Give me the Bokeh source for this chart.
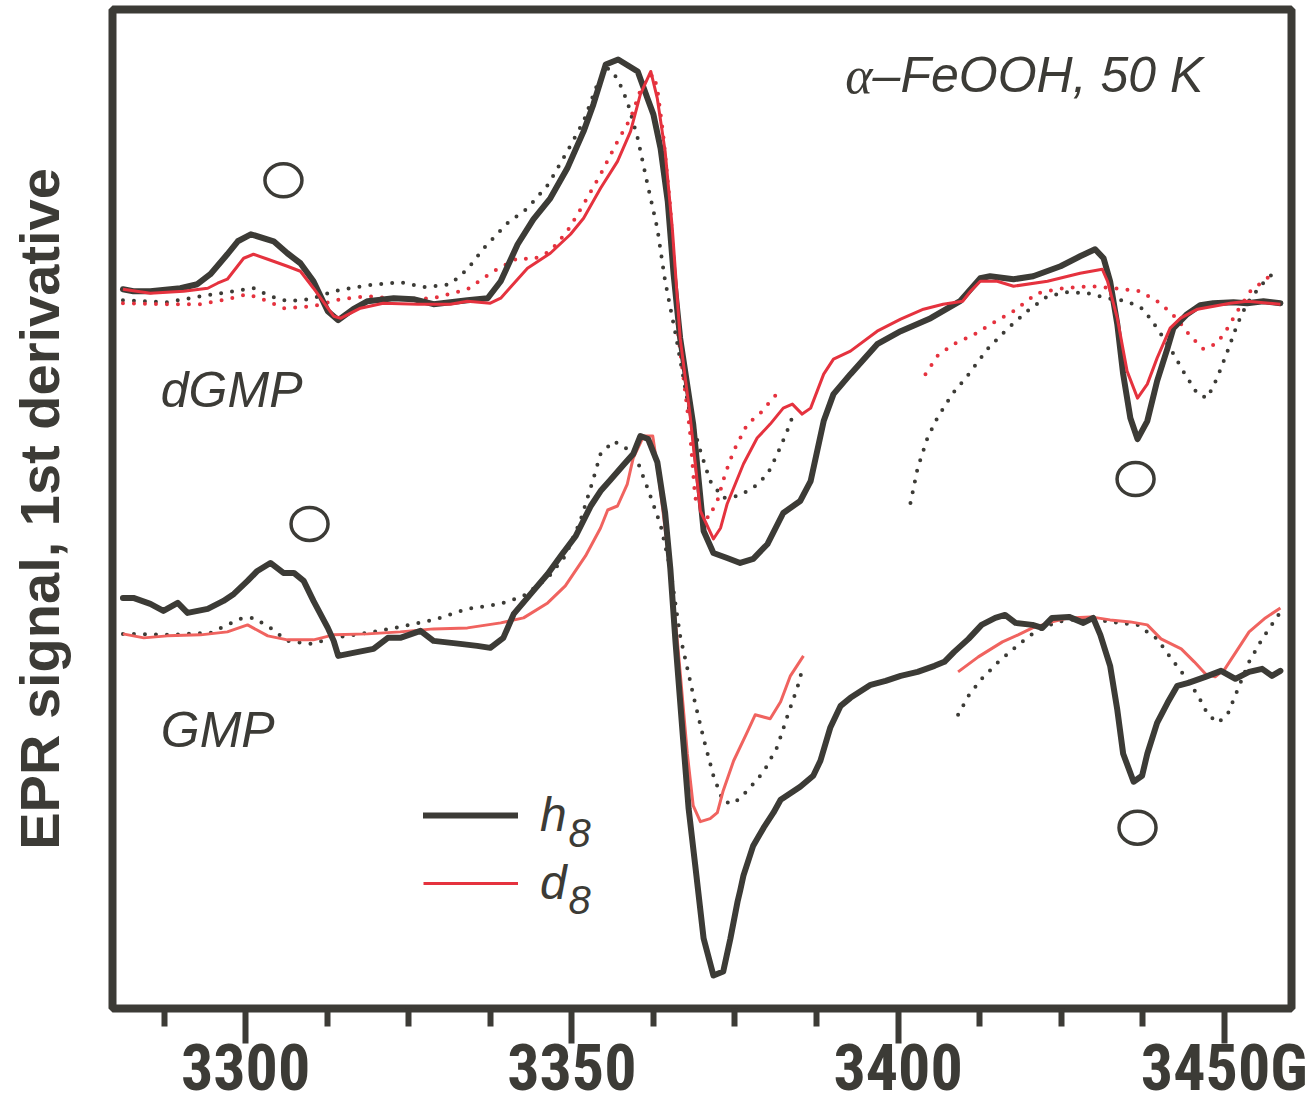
from bokeh.plotting import figure
from bokeh.models import Range1d, FixedTicker, LinearAxis, Label, Legend, LegendItem
from bokeh.embed import file_html
from bokeh.resources import INLINE

NAN = float("nan")

# ---------------- data (field in G, signal in arbitrary units) ----------------
# dGMP, h8 (experimental)
dgmp_h8_field = [3281.2, 3282.8, 3285.4, 3290.0, 3292.6, 3294.6, 3297.2, 3298.8, 3300.8, 3304.3,
                 3306.4, 3308.4, 3310.4, 3312.6, 3314.2, 3316.5, 3318.7, 3322.7, 3325.7, 3328.8,
                 3334.0, 3337.1, 3339.1, 3341.7, 3344.1, 3346.7, 3349.3, 3351.8, 3353.3, 3355.2,
                 3357.1, 3360.1, 3361.6, 3362.5, 3363.6, 3364.7, 3365.6, 3366.6, 3368.6, 3370.2,
                 3371.7, 3373.8, 3375.8, 3377.8, 3380.0, 3382.4, 3385.0, 3386.6, 3388.6, 3390.1,
                 3392.7, 3396.8, 3400.4, 3405.0, 3409.5, 3412.6, 3414.1, 3417.7, 3420.7, 3424.9,
                 3427.9, 3430.2, 3431.5, 3432.5, 3433.6, 3434.5, 3435.6, 3436.7, 3438.2, 3439.7,
                 3441.3, 3442.2, 3444.3, 3446.3, 3448.3, 3451.4, 3453.5, 3456.0, 3458.6]
dgmp_h8_signal = [22.0, 21.8, 21.8, 22.1, 22.5, 23.5, 25.5, 26.8, 27.5, 26.8,
                  25.6, 24.6, 22.8, 19.8, 18.9, 20.0, 20.8, 21.1, 21.0, 20.5,
                  20.9, 21.1, 22.8, 26.5, 29.0, 31.1, 34.1, 37.8, 40.5, 44.5,
                  45.0, 43.8, 41.1, 39.5, 36.1, 30.8, 23.5, 17.1, 8.5, -2.2,
                  -4.4, -4.9, -5.4, -5.0, -3.5, -0.4, 0.8, 2.8, 8.8, 11.5,
                  13.5, 16.5, 17.8, 19.1, 20.8, 23.1, 23.3, 23.0, 23.3, 24.3,
                  25.3, 26.0, 25.1, 22.8, 18.5, 13.5, 9.1, 7.0, 8.8, 12.8,
                  16.1, 18.1, 19.5, 20.4, 20.6, 20.7, 20.6, 20.8, 20.6]

# dGMP, d8 (experimental)
dgmp_d8_field = [3281.2, 3285.4, 3290.5, 3294.2, 3295.7, 3297.2, 3299.7, 3301.2, 3303.4, 3306.4,
                 3308.4, 3310.4, 3313.5, 3314.6, 3317.6, 3321.1, 3326.4, 3331.4, 3334.0, 3337.5,
                 3339.1, 3343.2, 3346.7, 3349.8, 3351.8, 3354.4, 3357.0, 3359.0, 3360.5, 3362.1,
                 3363.1, 3364.3, 3365.4, 3366.6, 3368.1, 3369.7, 3371.7, 3372.8, 3373.8, 3376.3,
                 3378.4, 3380.4, 3382.4, 3383.8, 3385.3, 3386.6, 3388.6, 3390.1, 3392.7, 3396.8,
                 3400.4, 3403.9, 3406.9, 3409.9, 3411.1, 3412.6, 3415.2, 3417.7, 3422.9, 3427.9,
                 3431.3, 3432.1, 3433.6, 3435.1, 3436.7, 3438.2, 3439.7, 3441.7, 3443.3, 3445.9,
                 3450.9, 3453.5, 3458.6]
dgmp_d8_signal = [22.0, 21.6, 21.8, 22.1, 22.6, 23.0, 25.1, 25.5, 25.0, 24.3,
                  23.8, 22.1, 19.3, 19.1, 20.1, 20.6, 20.5, 20.5, 20.8, 20.6,
                  21.1, 24.1, 25.6, 27.5, 29.1, 32.1, 34.8, 37.8, 41.5, 43.8,
                  41.1, 35.8, 28.1, 17.1, 9.5, -0.2, -3.0, -1.9, 0.5, 4.5,
                  7.1, 8.5, 10.1, 10.5, 9.5, 10.1, 13.5, 15.0, 15.8, 17.8,
                  19.0, 20.0, 20.5, 20.8, 21.8, 22.8, 22.8, 22.3, 22.8, 23.6,
                  24.0, 22.8, 19.1, 13.8, 11.1, 12.5, 15.1, 18.1, 19.1, 20.0,
                  20.6, 20.8, 20.5]

# dGMP, h8 (dotted)
dgmp_h8_dot_field = [3281.2, 3288.0, 3293.1, 3298.2, 3301.2, 3303.8, 3306.4, 3310.0, 3313.5, 3318.7,
                     3323.7, 3327.3, 3331.4, 3334.0, 3336.5, 3340.1, 3343.2, 3346.4, 3349.3, 3351.8,
                     3353.9, 3355.6, 3357.0, 3358.5, 3360.1, 3361.6, 3363.1, 3364.3, 3365.9, 3368.1,
                     3369.7, 3371.2, 3373.2, 3375.5, 3377.8, 3380.0, 3381.5, 3383.0, 3383.8, NAN,
                     3401.9, 3403.0, 3404.5, 3406.0, 3408.3, 3410.6, 3413.7, 3416.7, 3419.8, 3422.9,
                     3425.9, 3429.0, 3432.1, 3435.1, 3437.6, 3439.7, 3441.7, 3443.7, 3445.9, 3447.4,
                     3448.9, 3450.5, 3452.0, 3453.5, 3455.5, 3457.5]
dgmp_h8_dot_signal = [20.9, 20.7, 21.3, 21.8, 22.1, 21.3, 20.8, 21.0, 21.8, 22.4,
                      22.7, 22.2, 22.5, 24.0, 26.1, 28.6, 30.1, 32.5, 35.8, 38.8,
                      42.5, 44.1, 43.1, 40.8, 37.1, 32.5, 28.1, 22.8, 17.5, 9.5,
                      5.8, 2.8, 1.1, 1.3, 2.1, 3.5, 5.5, 7.8, 9.2, NAN,
                      0.6, 4.1, 7.1, 9.1, 11.5, 13.3, 16.0, 18.0, 19.8, 21.3,
                      21.7, 21.6, 21.1, 20.8, 20.0, 18.1, 16.1, 13.8, 11.5, 11.1,
                      13.1, 15.8, 18.5, 20.6, 22.3, 23.6]

# dGMP, d8 (dotted)
dgmp_d8_dot_field = [3281.2, 3288.0, 3293.1, 3297.2, 3300.3, 3303.4, 3305.8, 3310.4, 3314.6, 3318.7,
                     3323.7, 3328.8, 3334.0, 3338.0, 3341.7, 3344.1, 3346.7, 3349.3, 3351.8, 3354.4,
                     3357.0, 3359.0, 3361.0, 3362.5, 3363.1, 3364.0, 3365.1, 3366.3, 3368.1, 3368.9,
                     3370.9, 3372.3, 3373.5, 3374.8, 3376.9, 3378.9, 3381.5, NAN,
                     3404.2, 3406.0, 3408.5, 3411.5, 3413.7, 3417.7, 3421.3, 3425.3, 3429.5, 3433.0,
                     3437.1, 3440.2, 3442.8, 3444.8, 3446.8, 3448.9, 3450.5, 3452.0, 3454.0, 3456.0,
                     3457.5]
dgmp_d8_dot_signal = [20.6, 20.5, 20.5, 21.0, 21.5, 20.8, 20.1, 20.3, 21.0, 21.3,
                      21.0, 21.1, 22.0, 23.8, 25.1, 25.0, 25.8, 27.8, 30.5, 33.5,
                      36.8, 39.1, 42.8, 43.5, 42.1, 37.5, 30.1, 17.5, 7.8, 1.1,
                      -0.9, 0.8, 3.5, 5.8, 8.5, 9.6, 11.6, NAN,
                      13.5, 15.3, 16.5, 17.4, 18.3, 19.8, 21.6, 22.1, 22.3, 22.1,
                      21.8, 20.6, 19.0, 17.3, 16.0, 16.6, 18.1, 19.8, 21.8, 22.8,
                      23.6]

# GMP, h8 (experimental)
gmp_h8_field = [3281.2, 3282.8, 3285.4, 3287.4, 3289.6, 3291.1, 3294.2, 3296.6, 3298.2, 3300.3,
                3301.8, 3303.8, 3305.8, 3307.4, 3308.9, 3310.4, 3312.6, 3313.5, 3314.2, 3316.5,
                3319.6, 3321.8, 3323.7, 3326.8, 3328.8, 3332.9, 3335.5, 3337.5, 3339.5, 3341.1,
                3343.7, 3346.3, 3348.3, 3350.6, 3352.9, 3354.4, 3355.9, 3357.9, 3359.4, 3360.5,
                3361.7, 3363.1, 3364.3, 3365.1, 3365.9, 3367.0, 3367.9, 3368.9, 3370.2, 3371.7,
                3373.2, 3374.3, 3375.4, 3375.8, 3376.3, 3377.8, 3379.4, 3380.9, 3382.0, 3385.0,
                3387.0, 3388.1, 3389.6, 3391.2, 3392.7, 3395.8, 3398.1, 3400.4, 3403.0, 3405.6,
                3407.1, 3408.6, 3410.8, 3412.8, 3414.9, 3416.4, 3418.0, 3420.6, 3422.1, 3423.6,
                3426.2, 3428.4, 3429.9, 3431.0, 3432.5, 3433.6, 3434.5, 3436.1, 3437.4, 3438.2,
                3439.7, 3441.3, 3442.8, 3444.5, 3447.1, 3449.5, 3451.7, 3453.8, 3455.8, 3457.3,
                3458.6]
gmp_h8_signal = [-8.9, -8.9, -9.5, -10.2, -9.4, -10.4, -10.0, -9.2, -8.5, -7.2,
                 -6.2, -5.4, -6.4, -6.4, -7.2, -9.2, -11.9, -13.2, -14.7, -14.4,
                 -14.0, -12.9, -12.9, -12.2, -13.2, -13.5, -13.7, -13.9, -12.9, -10.5,
                 -8.5, -6.5, -4.7, -2.7, 0.3, 1.8, 2.9, 4.4, 5.5, 7.3,
                 7.0, 4.7, -0.4, -6.0, -13.4, -22.6, -30.0, -35.6, -43.0, -46.7,
                 -46.3, -43.0, -39.3, -38.2, -36.7, -33.7, -31.9, -30.4, -29.1, -27.8,
                 -26.7, -25.2, -21.9, -19.7, -18.9, -17.6, -17.2, -16.7, -16.3, -15.7,
                 -15.3, -14.3, -13.0, -11.6, -10.9, -10.6, -11.4, -11.6, -11.9, -10.9,
                 -10.8, -11.4, -10.9, -12.6, -15.7, -20.1, -24.5, -27.3, -26.7, -24.5,
                 -21.4, -19.4, -17.7, -17.4, -16.8, -16.2, -17.0, -16.3, -16.0, -16.7,
                 -16.2]

# GMP, d8 (experimental, two segments)
gmp_d8_field = [3281.2, 3284.4, 3288.0, 3293.1, 3297.2, 3300.3, 3303.4, 3306.4, 3310.4, 3313.5,
                3318.7, 3323.7, 3328.8, 3334.0, 3339.1, 3342.6, 3346.3, 3349.0, 3352.1, 3354.4,
                3355.5, 3357.0, 3358.5, 3359.4, 3361.0, 3362.4, 3363.3, 3364.7, 3366.2, 3367.7,
                3368.6, 3369.7, 3371.2, 3372.3, 3373.2, 3374.8, 3376.9, 3378.1, 3380.4, 3382.0,
                3383.5, 3385.5, NAN,
                3409.2, 3412.3, 3416.0, 3418.4, 3420.6, 3423.6, 3426.2, 3429.5, 3432.5, 3435.6,
                3438.2, 3440.3, 3443.4, 3445.4, 3447.1, 3448.6, 3450.1, 3452.1, 3453.8, 3456.3,
                3458.6]
gmp_d8_signal = [-12.5, -12.9, -12.7, -12.6, -12.3, -11.6, -12.7, -13.1, -13.1, -12.6,
                 -12.5, -12.3, -12.0, -11.9, -11.4, -10.9, -9.4, -7.7, -4.7, -1.9,
                 -0.1, 0.3, 2.5, 5.1, 7.3, 7.3, 3.3, -4.1, -13.4, -24.5,
                 -29.7, -31.3, -31.0, -30.4, -28.2, -25.2, -22.3, -20.6, -21.0, -19.3,
                 -16.7, -14.7, NAN,
                 -16.3, -14.8, -13.3, -12.6, -11.9, -11.3, -10.9, -10.8, -11.1, -11.3,
                 -11.6, -13.0, -14.0, -15.3, -16.5, -16.8, -16.0, -14.0, -12.3, -10.9,
                 -9.9]

# GMP, h8 (dotted)
gmp_h8_dot_field = [3281.2, 3288.0, 3294.6, 3299.2, 3301.2, 3303.8, 3306.4, 3310.0, 3313.5, 3318.7,
                    3323.7, 3328.8, 3334.0, 3339.1, 3342.6, 3346.3, 3349.0, 3351.3, 3353.2, 3354.4,
                    3356.4, 3358.5, 3360.1, 3361.6, 3363.6, 3365.1, 3366.6, 3368.6, 3370.2, 3371.7,
                    3373.2, 3374.8, 3376.9, 3379.4, 3381.5, 3383.0, 3384.6, 3385.5, NAN,
                    3409.2, 3410.8, 3412.8, 3415.4, 3418.4, 3421.0, 3424.3, 3428.8, 3432.5, 3436.7,
                    3439.7, 3441.9, 3443.9, 3446.0, 3447.5, 3449.1, 3450.6, 3452.1, 3453.8, 3455.8,
                    3458.0, 3459.0]
gmp_h8_dot_signal = [-12.5, -12.6, -12.4, -11.0, -10.9, -11.9, -13.2, -13.5, -12.9, -12.4,
                     -11.8, -11.1, -10.0, -9.5, -8.7, -6.9, -4.7, -1.2, 2.8, 5.5,
                     6.8, 6.0, 4.7, 2.1, -1.6, -6.0, -12.7, -18.6, -23.0, -26.7,
                     -29.3, -29.5, -28.2, -26.3, -23.8, -20.8, -17.8, -15.6, NAN,
                     -20.6, -18.7, -17.0, -15.3, -13.6, -12.3, -11.3, -10.9, -11.3, -11.6,
                     -13.0, -15.0, -16.7, -18.7, -20.6, -21.4, -20.4, -18.0, -15.3, -13.0,
                     -10.9, -9.9]

# open-circle markers
marker_field = [3305.8, 3309.8, 3436.4, 3436.7]
marker_signal = [32.9, -1.5, 3.0, -31.9]

# axis ticks
major_ticks = [3300, 3350, 3400, 3450]
mid_ticks = [3325, 3375, 3425]
minor_ticks = [3287.5, 3312.5, 3325, 3337.5, 3362.5, 3375, 3387.5, 3412.5, 3425, 3437.5]

DARK = "#3c3b36"
RED = "#e5323e"
SALMON = "#f0635f"

p = figure(width=1311, height=1113,
           x_range=Range1d(3279.6, 3460.3), y_range=Range1d(-50, 50),
           output_backend="svg", toolbar_location=None,
           min_border_left=112, min_border_right=20, min_border_top=9, min_border_bottom=105,
           background_fill_color="white", border_fill_color="white")
p.grid.visible = False
p.outline_line_color = DARK
p.outline_line_width = 8

# x axis
xa = p.xaxis[0]
xa.ticker = FixedTicker(ticks=major_ticks, minor_ticks=minor_ticks)
xa.major_label_overrides = {3450: "3450G"}
xa.axis_line_color = None
xa.major_tick_in = 0
xa.major_tick_out = 35
xa.minor_tick_in = 0
xa.minor_tick_out = 18
xa.major_tick_line_color = DARK
xa.major_tick_line_width = 6
xa.minor_tick_line_color = DARK
xa.minor_tick_line_width = 6
xa.major_label_text_font = "'Roboto Condensed', 'Liberation Sans Narrow', 'Liberation Sans', sans-serif"
xa.major_label_text_font_style = "bold"
xa.major_label_text_font_size = "64px"
xa.major_label_text_color = DARK
xa.major_label_standoff = -13

ax_mid = LinearAxis(fixed_location=-50, ticker=FixedTicker(ticks=mid_ticks, minor_ticks=[]),
                    major_tick_in=0, major_tick_out=27, major_tick_line_width=6,
                    major_tick_line_color=DARK, minor_tick_line_color=None,
                    axis_line_color=None, major_label_text_alpha=0,
                    major_label_text_font_size="1px")
p.add_layout(ax_mid, "below")

# y axis
ya = p.yaxis[0]
ya.ticker = FixedTicker(ticks=[])
ya.axis_line_color = None
ya.major_tick_line_color = None
ya.minor_tick_line_color = None
ya.axis_label = "EPR signal, 1st derivative"
ya.axis_label_text_font = "Liberation Sans"
ya.axis_label_text_font_style = "bold"
ya.axis_label_text_font_size = "56px"
ya.axis_label_text_color = DARK
ya.axis_label_standoff = 42

# curves
DOT = "0 11"
p.line(dgmp_h8_dot_field, dgmp_h8_dot_signal, line_color=DARK, line_width=4, line_dash=DOT, line_cap="round")
p.line(dgmp_d8_dot_field, dgmp_d8_dot_signal, line_color=RED, line_width=4, line_dash=DOT, line_cap="round")
p.line(gmp_h8_dot_field, gmp_h8_dot_signal, line_color=DARK, line_width=4, line_dash=DOT, line_cap="round")
p.line(gmp_d8_field, gmp_d8_signal, line_color=SALMON, line_width=3, line_join="round")
p.line(gmp_h8_field, gmp_h8_signal, line_color=DARK, line_width=6, line_join="round", line_cap="round")
r_h8 = p.line(dgmp_h8_field, dgmp_h8_signal, line_color=DARK, line_width=6, line_join="round", line_cap="round")
r_d8 = p.line(dgmp_d8_field, dgmp_d8_signal, line_color=RED, line_width=3, line_join="round")

p.ellipse(x=marker_field, y=marker_signal, width=37, height=33,
          width_units="screen", height_units="screen",
          fill_color=None, line_color=DARK, line_width=3.5)

# legend
leg = Legend(items=[LegendItem(label="h", renderers=[r_h8]), LegendItem(label="d", renderers=[r_d8])],
             location=(311, 98), orientation="vertical",
             glyph_width=95, glyph_height=54, label_height=54, label_width=20,
             label_standoff=22, spacing=13, padding=0, margin=0,
             border_line_color=None, background_fill_alpha=0,
             label_text_font="Liberation Sans", label_text_font_style="italic",
             label_text_font_size="48px", label_text_color=DARK)
p.add_layout(leg)

SANS = "Liberation Sans"
for x, y, t in [(3349.5, -32.4, "8"), (3349.5, -39.1, "8")]:
    p.add_layout(Label(x=x, y=y, text=t, text_font=SANS, text_font_style="italic",
                       text_font_size="40px", text_color=DARK, text_baseline="alphabetic"))

p.add_layout(Label(x=3391.9, y=43.4, text="α", text_font="Liberation Serif", text_font_style="italic",
                   text_font_size="52px", text_color=DARK, text_baseline="alphabetic"))
p.add_layout(Label(x=3396.1, y=43.4, text="–FeOOH, 50 K", text_font=SANS, text_font_style="italic",
                   text_font_size="50px", text_color=DARK, text_baseline="alphabetic"))
p.add_layout(Label(x=3287.0, y=11.9, text="dGMP", text_font=SANS, text_font_style="italic",
                   text_font_size="50px", text_color=DARK, text_baseline="alphabetic"))
p.add_layout(Label(x=3287.0, y=-22.1, text="GMP", text_font=SANS, text_font_style="italic",
                   text_font_size="50px", text_color=DARK, text_baseline="alphabetic"))

open("out.html", "w").write(file_html(p, INLINE))
